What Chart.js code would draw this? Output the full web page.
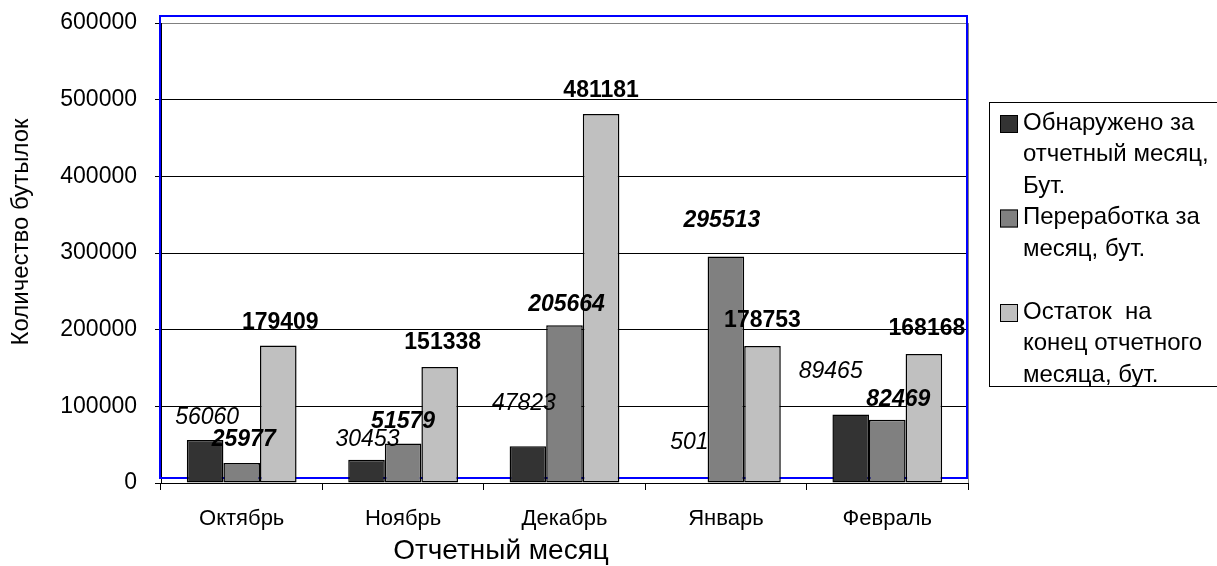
<!DOCTYPE html>
<html lang="ru">
<head>
<meta charset="utf-8">
<title>Обнаружение и переработка бутылок</title>
<script src="https://cdn.jsdelivr.net/npm/chart.js@4.4.1/dist/chart.umd.min.js"></script>
<style>
  html, body { margin: 0; padding: 0; background: #ffffff; }
  #wrap { width: 1217px; height: 566px; }
</style>
</head>
<body>
<div id="wrap"><canvas id="chart" width="1217" height="566"></canvas></div>
<script>
// Months and monthly bottle counts
const months = ['Октябрь', 'Ноябрь', 'Декабрь', 'Январь', 'Февраль'];
const foundPerMonth = [56060, 30453, 47823, 501, 89465];
const processedPerMonth = [25977, 51579, 205664, 295513, 82469];
const remainingAtMonthEnd = [179409, 151338, 481181, 178753, 168168];

// Legend captions, one array entry per printed line
const foundCaption = ['Обнаружено за', 'отчетный месяц,', 'Бут.'];
const processedCaption = ['Переработка за', 'месяц, бут.', ''];
const remainingCaption = ['Остаток  на', 'конец отчетного', 'месяца, бут.'];

const yTitle = 'Количество бутылок';
const xTitle = 'Отчетный месяц';

const FONT = "'Liberation Sans', Arial, Helvetica, sans-serif";
Chart.defaults.font.family = FONT;
Chart.defaults.color = '#000000';

// Value labels drawn above each bar, nudged per label
const valueLabels = {
  id: 'valueLabels',
  afterDatasetsDraw(chart, args, opts) {
    const ctx = chart.ctx;
    ctx.save();
    ctx.textAlign = 'center';
    ctx.textBaseline = 'middle';
    ctx.fillStyle = '#000000';
    chart.data.datasets.forEach((ds, i) => {
      const meta = chart.getDatasetMeta(i);
      ctx.font = opts.fonts[i];
      meta.data.forEach((bar, j) => {
        const [dx, dy] = opts.shift[i][j];
        ctx.fillText(String(ds.data[j]), bar.x + dx, bar.y + dy);
      });
    });
    ctx.restore();
  }
};

// Plot frame, selection outline, axis titles and the legend box
const frameAndLegend = {
  id: 'frameAndLegend',
  beforeDatasetsDraw(chart) {
    const { ctx, chartArea: a } = chart;
    ctx.save();
    ctx.strokeStyle = '#808080';
    ctx.lineWidth = 1;
    ctx.beginPath();
    ctx.moveTo(a.right + 0.5, a.top);
    ctx.lineTo(a.right + 0.5, a.bottom);
    ctx.stroke();
    ctx.strokeStyle = '#0000ff';
    ctx.lineWidth = 2;
    ctx.strokeRect(a.left - 1, a.top - 7, a.right - a.left, a.bottom - a.top + 2);
    ctx.restore();
  },
  afterDraw(chart, args, opts) {
    const { ctx, chartArea: a } = chart;
    ctx.save();
    ctx.fillStyle = '#000000';
    ctx.textAlign = 'center';
    ctx.textBaseline = 'middle';
    // horizontal axis title
    ctx.font = '28px ' + FONT;
    ctx.fillText(xTitle, 501, 551);
    // vertical axis title
    ctx.font = '24px ' + FONT;
    ctx.translate(21, (a.top + a.bottom) / 2 - 21);
    ctx.rotate(-Math.PI / 2);
    ctx.fillText(yTitle, 0, 0);
    ctx.restore();

    // legend
    ctx.save();
    const box = opts.box;
    ctx.strokeStyle = '#000000';
    ctx.lineWidth = 1;
    ctx.strokeRect(box.x + 0.5, box.y + 0.5, box.w, box.h);
    ctx.font = '24px ' + FONT;
    ctx.textAlign = 'left';
    ctx.textBaseline = 'middle';
    let y = box.firstLine;
    chart.data.datasets.forEach((ds, i) => {
      const lines = opts.captions[i];
      ctx.fillStyle = ds.backgroundColor;
      ctx.fillRect(box.x + 11, y - 8, 18, 18);
      ctx.strokeStyle = '#000000';
      ctx.strokeRect(box.x + 11.5, y - 7.5, 17, 17);
      ctx.fillStyle = '#000000';
      lines.forEach((t, k) => {
        ctx.fillText(t, box.x + 34, y + k * box.lineStep);
      });
      y += lines.length * box.lineStep;
    });
    ctx.restore();
  }
};

const barStyle = { borderColor: '#000000', borderWidth: 1.5, borderSkipped: false };

new Chart(document.getElementById('chart'), {
  type: 'bar',
  data: {
    labels: months,
    datasets: [
      { label: foundCaption.join(' '), data: foundPerMonth, backgroundColor: '#333333', ...barStyle },
      { label: processedCaption.join(' ').trim(), data: processedPerMonth, backgroundColor: '#808080', ...barStyle },
      { label: remainingCaption.join(' '), data: remainingAtMonthEnd, backgroundColor: '#c0c0c0', ...barStyle }
    ]
  },
  options: {
    responsive: false,
    animation: false,
    events: [],
    layout: { padding: { top: 23, right: 249, left: 0, bottom: 0 } },
    datasets: { bar: { categoryPercentage: 0.68, barPercentage: 1.0 } },
    plugins: {
      legend: { display: false },
      tooltip: { enabled: false },
      valueLabels: {
        fonts: ['italic 23px ' + FONT, 'italic bold 23px ' + FONT, 'bold 23px ' + FONT],
        shift: [
          [[2, -22], [1, -20], [-4, -43], [0, -40], [-20, -43]],
          [[2, -23], [0, -22], [2, -21], [-4, -36], [11, -20]],
          [[2, -23], [3, -24], [0, -23], [0, -25], [3, -25]]
        ]
      },
      frameAndLegend: {
        captions: [foundCaption, processedCaption, remainingCaption],
        box: { x: 989, y: 102, w: 240, h: 284, firstLine: 123, lineStep: 31.5 }
      }
    },
    scales: {
      x: {
        grid: { offset: true, drawOnChartArea: false, tickLength: 7, color: '#000000' },
        border: { color: '#000000', width: 1 },
        ticks: { font: { size: 22 }, padding: 16, color: '#000000', maxRotation: 0 },
        afterFit(scale) { scale.height = 83; }
      },
      y: {
        min: 0,
        max: 600000,
        ticks: {
          stepSize: 100000,
          padding: 18,
          font: { size: 23 },
          color: '#000000',
          callback: v => String(v)
        },
        grid: {
          color: c => (c.tick && c.tick.value === 600000 ? '#808080' : '#000000'),
          lineWidth: 1,
          tickLength: 6,
          tickColor: '#000000'
        },
        border: { color: '#000000', width: 1 },
        afterFit(scale) {
          scale.width = 161;
          scale.paddingTop = 14;
          scale.paddingBottom = 14;
        }
      }
    }
  },
  plugins: [valueLabels, frameAndLegend]
});
</script>
</body>
</html>
